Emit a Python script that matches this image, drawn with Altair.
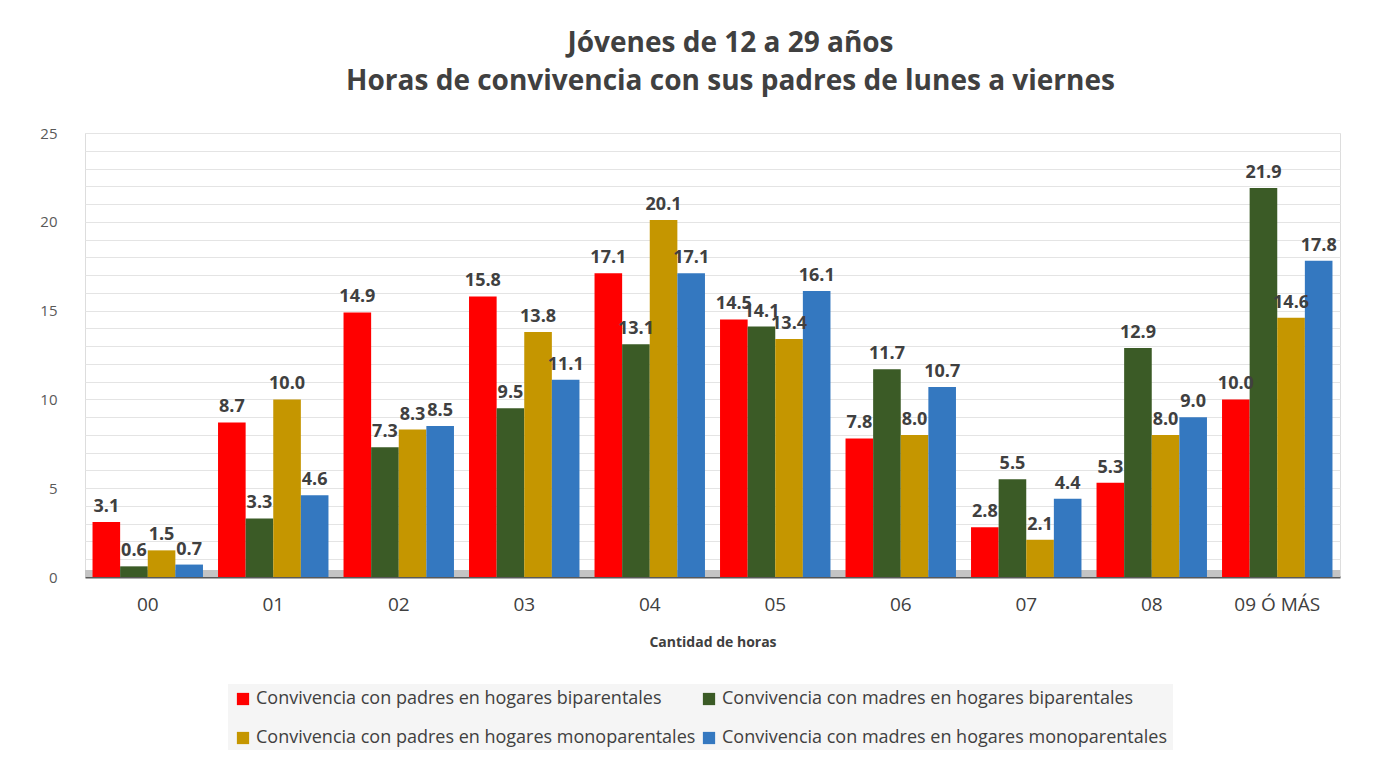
import altair as alt
import pandas as pd

categorias = ["00", "01", "02", "03", "04", "05", "06", "07", "08", "09 Ó MÁS"]
series = [
    "Convivencia con padres en hogares biparentales",
    "Convivencia con madres en hogares biparentales",
    "Convivencia con padres en hogares monoparentales",
    "Convivencia con madres en hogares monoparentales",
]
padres_bip = [3.1, 8.7, 14.9, 15.8, 17.1, 14.5, 7.8, 2.8, 5.3, 10.0]
madres_bip = [0.6, 3.3, 7.3, 9.5, 13.1, 14.1, 11.7, 5.5, 12.9, 21.9]
padres_mono = [1.5, 10.0, 8.3, 13.8, 20.1, 13.4, 8.0, 2.1, 8.0, 14.6]
madres_mono = [0.7, 4.6, 8.5, 11.1, 17.1, 16.1, 10.7, 4.4, 9.0, 17.8]
colores = ["#ff0000", "#3b5b26", "#c59600", "#3478c0"]
suelo = [0.0]
suelo_alto = [0.4]

valores = [padres_bip, madres_bip, padres_mono, madres_mono]
rows = []
for s_i, (s, vals) in enumerate(zip(series, valores)):
    for c, v in zip(categorias, vals):
        rows.append({"cat": c, "serie": s, "orden": s_i, "valor": v})
df = pd.DataFrame(rows)
df_suelo = pd.DataFrame({"y0": suelo, "y1": suelo_alto})

FONT = "Open Sans"
TXT = "#404040"

x = alt.X(
    "cat:N",
    sort=categorias,
    scale=alt.Scale(paddingInner=0.12, paddingOuter=0.06),
    axis=alt.Axis(
        title="Cantidad de horas",
        titleFontSize=14,
        titleFontWeight="bold",
        titleColor=TXT,
        titleFont=FONT,
        titlePadding=21,
        labelFontSize=19,
        labelColor=TXT,
        labelFont=FONT,
        labelPadding=18,
        labelAngle=0,
        ticks=False,
        grid=False,
        domainColor="#595959",
        domainWidth=2,
    ),
)
yscale = alt.Scale(domain=[0, 25], nice=False)
yaxis = alt.Axis(
    title=None,
    values=list(range(0, 26)),
    labelExpr="datum.value % 5 == 0 ? datum.label : ''",
    labelFontSize=15,
    labelColor="#595959",
    labelFont=FONT,
    labelPadding=28,
    ticks=False,
    domain=False,
    gridColor="#e4e4e4",
    gridWidth=1,
)
y = alt.Y("valor:Q", scale=yscale, axis=yaxis)
xo = alt.XOffset("serie:N", sort=series)

floor = alt.Chart(df_suelo).mark_rect(color="#c4c4c4").encode(
    y=alt.Y("y0:Q", scale=yscale, axis=yaxis),
    y2="y1:Q",
)

bars = alt.Chart(df).mark_bar().encode(
    x=x,
    y=y,
    xOffset=xo,
    color=alt.Color(
        "serie:N",
        sort=series,
        scale=alt.Scale(domain=series, range=colores),
        legend=alt.Legend(
            title=None,
            orient="none",
            direction="horizontal",
            legendX=143,
            legendY=551,
            columns=2,
            symbolType="square",
            symbolSize=150,
            symbolStrokeWidth=0,
            labelFontSize=18,
            labelColor=TXT,
            labelFont=FONT,
            labelLimit=600,
            rowPadding=21,
            columnPadding=4,
            fillColor="#f5f5f5",
            padding=6,
        ),
    ),
)

labels = alt.Chart(df).mark_text(
    dy=-15, fontSize=18, fontWeight="bold", color=TXT, font=FONT
).encode(
    x=x,
    y=y,
    xOffset=xo,
    text=alt.Text("valor:Q", format=".1f"),
)

chart = (
    alt.layer(floor, bars, labels)
    .properties(
        width=1255,
        height=444,
        autosize=alt.AutoSizeParams(type="none"),
        padding={"left": 77, "top": 125, "right": 20, "bottom": 173},
        title=alt.Title(
            text=["Jóvenes de 12 a 29 años", "Horas de convivencia con sus padres de lunes a viernes"],
            fontSize=28,
            fontWeight="bold",
            color=TXT,
            font=FONT,
            lineHeight=38,
            offset=30,
            dx=18,
            anchor="middle",
        ),
    )
    .configure_view(stroke=None)
    .configure(background="white")
)

chart.save("out.html", embed_options={"renderer": "svg", "actions": False})
